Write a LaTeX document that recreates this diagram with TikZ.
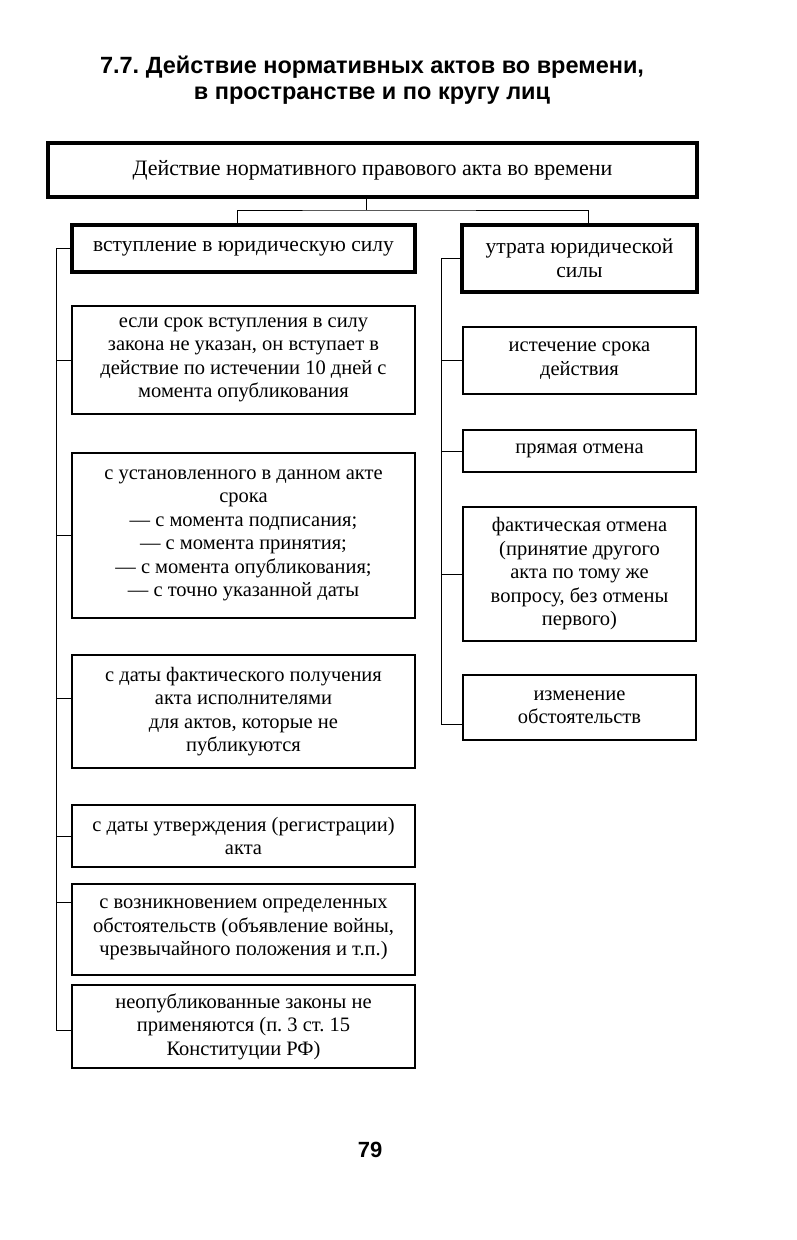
\documentclass[tikz,border=0pt]{standalone}
\usepackage{fontspec}
\setmainfont{Liberation Serif}
\newfontfamily\headfont{Liberation Sans}
\usetikzlibrary{positioning}
\frenchspacing

\begin{document}
\begin{tikzpicture}[x=1pt, y=-1pt]

\tikzset{box/.style = {shape=rectangle, draw, line width=1.2pt, align=center, inner sep=0pt,
  font=\fontsize{20.5}{23.5}\selectfont}}
\tikzset{mainbox/.style = {box, line width=4.5pt, font=\fontsize{21.5}{24}\selectfont}}
\tikzset{link/.style = {line width=1pt}}
\useasboundingbox (0,0) rectangle (797,1240);
% heading
\node[align=center, font=\headfont\bfseries\fontsize{23.5}{26}\selectfont] (head) at (372,80)
  {7.7. Действие нормативных актов во времени,\\в пространстве и по кругу лиц};
% top
\node[mainbox, minimum width=649pt, minimum height=54pt, font=\fontsize{22}{24}\selectfont] (act) at (372.5,170)
  {Действие нормативного правового акта во времени};
\node[mainbox, minimum width=343pt, minimum height=47pt] (vstup) at (243.5,248.5)
  {вступление в юридическую силу};
\node[mainbox, minimum width=235pt, minimum height=67pt] (utrata) at (579.5,258.5)
  {утрата юридической\\силы};
% left column
\node[box, minimum width=343pt, minimum height=108pt] (b1) at (243.5,360)
  {если срок вступления в силу\\закона не указан, он вступает в\\действие по истечении 10 дней с\\момента опубликования};
\node[box, minimum width=343pt, minimum height=165pt] (b2) at (243.5,535.5)
  {с установленного в данном акте\\срока\\— с момента подписания;\\— с момента принятия;\\— с момента опубликования;\\— с точно указанной даты};
\node[box, minimum width=343pt, minimum height=113pt] (b3) at (243.5,711.5)
  {с даты фактического получения\\акта исполнителями\\для актов, которые не\\публикуются};
\node[box, minimum width=343pt, minimum height=62pt] (b4) at (243.5,836)
  {с даты утверждения (регистрации)\\акта};
\node[box, minimum width=343pt, minimum height=91pt] (b5) at (243.5,929.5)
  {с возникновением определенных\\обстоятельств (объявление войны,\\чрезвычайного положения и т.п.)};
\node[box, minimum width=343pt, minimum height=83pt] (b6) at (243.5,1026.5)
  {неопубликованные законы не\\применяются (п. 3 ст. 15\\Конституции РФ)};
% right column
\node[box, minimum width=233pt, minimum height=67pt] (r1) at (579.5,360.5)
  {истечение срока\\действия};
\node[box, minimum width=233pt, minimum height=42pt] (r2) at (579.5,451)
  {прямая отмена};
\node[box, minimum width=233pt, minimum height=134pt] (r3) at (579.5,574)
  {фактическая отмена\\(принятие другого\\акта по тому же\\вопросу, без отмены\\первого)};
\node[box, minimum width=233pt, minimum height=65pt] (r4) at (579.5,707.5)
  {изменение\\обстоятельств};
% page number
\node[font=\headfont\bfseries\fontsize{22}{25}\selectfont] (page) at (370,1150) {79};
% links
\coordinate (split) at (366,210);
\coordinate (trunkL) at (56,0);
\coordinate (trunkR) at (441,0);
\draw[link] (act.south -| split) -- (split);
\draw[link] ([xshift=-6pt]vstup.north) |- (split) -| ([xshift=8.5pt]utrata.north);
\draw[link] (vstup.west) -- (vstup.west -| trunkL) -- ([yshift=-4pt]b6.west -| trunkL);
\foreach \b/\s in {b1/0, b2/0, b3/13, b4/0, b5/27, b6/-4}
  \draw[link] ([yshift=\s pt]\b.west) -- ([yshift=\s pt]\b.west -| trunkL);
\draw[link] (utrata.west) -- (utrata.west -| trunkR) -- ([yshift=-17pt]r4.west -| trunkR);
\foreach \r/\s in {r1/0, r2/0, r3/0, r4/-17}
  \draw[link] ([yshift=\s pt]\r.west) -- ([yshift=\s pt]\r.west -| trunkR);
\end{tikzpicture}
\end{document}
